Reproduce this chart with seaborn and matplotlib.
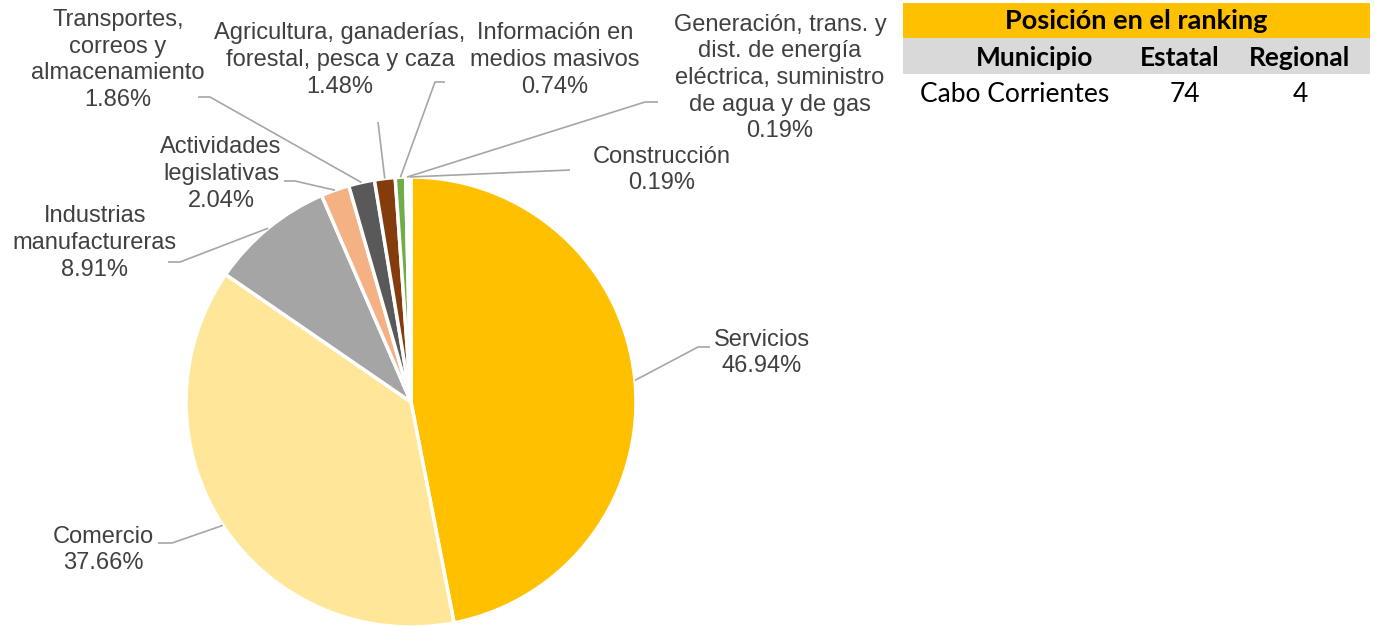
"""Pie of sector shares for Cabo Corrientes with a small ranking table."""

import matplotlib

matplotlib.use("Agg")

import matplotlib.pyplot as plt
import numpy as np
import seaborn as sns
from matplotlib.patches import Rectangle

W, H = 1375, 626

SECTORS = [
    "Servicios",
    "Comercio",
    "Industrias\nmanufactureras",
    "Actividades\nlegislativas",
    "Transportes,\ncorreos y\nalmacenamiento",
    "Agricultura, ganaderías,\nforestal, pesca y caza",
    "Información en\nmedios masivos",
    "Generación, trans. y\ndist. de energía\neléctrica, suministro\nde agua y de gas",
    "Construcción",
]
SHARES = [46.94, 37.66, 8.91, 2.04, 1.86, 1.48, 0.74, 0.19, 0.19]
COLORS = ["#FFC000", "#FFE699", "#A5A5A5", "#F4B183", "#595959",
          "#843C0C", "#70AD47", "#BDD7EE", "#C9C9C9"]

TABLE_TITLE = "Posición en el ranking"
TABLE_COLS = ["Municipio", "Estatal", "Regional"]
TABLE_ROW = ["Cabo Corrientes", "74", "4"]

# layout (pixel coords, y from top)
PIE_CENTER = (411, 402)
PIE_RADIUS = 225
LABEL_POS = [(762, 353), (103, 550), (95, 243), (221, 174), (118, 60),
             (340, 60), (555, 60), (780, 78), (662, 170)]
ELBOWS = [
    [(698, 347), (710, 347)],
    [(172, 543), (158, 543)],
    [(180, 262), (168, 262)],
    [(295, 181), (284, 181)],
    [(210, 97), (198, 97)],
    [(378, 122)],
    [(435, 82), (445, 82)],
    [(645, 102), (658, 102)],
    [(570, 170)],
]


def fy(y):
    return H - y


def main():
    sns.set_theme(style="white")
    plt.rcParams["font.family"] = ["Liberation Sans", "DejaVu Sans"]

    fig = plt.figure(figsize=(W / 100, H / 100), dpi=100)
    ax = fig.add_axes([0, 0, 1, 1])

    cx, cy = PIE_CENTER[0], fy(PIE_CENTER[1])
    wedges, _ = ax.pie(
        SHARES,
        colors=COLORS,
        startangle=90,
        counterclock=False,
        center=(cx, cy),
        radius=PIE_RADIUS,
        wedgeprops=dict(edgecolor="white", linewidth=2.5),
    )
    ax.set_xlim(0, W)
    ax.set_ylim(0, H)
    ax.set_aspect("auto")
    ax.axis("off")

    line_color = "#A6A6A6"
    text_color = "#404040"
    for wedge, name, share, pos, elbow in zip(wedges, SECTORS, SHARES, LABEL_POS, ELBOWS):
        mid = np.deg2rad((wedge.theta1 + wedge.theta2) / 2)
        x0 = cx + PIE_RADIUS * np.cos(mid)
        y0 = cy + PIE_RADIUS * np.sin(mid)
        xs = [x0] + [p[0] for p in elbow]
        ys = [y0] + [fy(p[1]) for p in elbow]
        ax.plot(xs, ys, color=line_color, lw=1.2, solid_capstyle="butt")
        ax.text(pos[0], fy(pos[1]), f"{name}\n{share:.2f}%", ha="center", va="center",
                multialignment="center", fontsize=17, color=text_color, linespacing=1.27)

    # ranking table
    tfont = ["Lato", "DejaVu Sans"]
    ax.add_patch(Rectangle((903, fy(38)), 467, 35, facecolor="#FFC000", edgecolor="none"))
    ax.add_patch(Rectangle((903, fy(74)), 467, 36, facecolor="#D9D9D9", edgecolor="none"))
    ax.text(1136, fy(21), TABLE_TITLE, ha="center", va="center", fontsize=19.5,
            fontweight="bold", family=tfont, color="black")
    for x, label in zip([1035, 1180, 1300], TABLE_COLS):
        ax.text(x, fy(58), label, ha="center", va="center", fontsize=19,
                fontweight="bold", family=tfont, color="black")
    for x, value in zip([1015, 1185, 1300], TABLE_ROW):
        ax.text(x, fy(95), value, ha="center", va="center", fontsize=19,
                family=tfont, color="black")

    fig.savefig("out.png", dpi=100)
    plt.close(fig)


if __name__ == "__main__":
    main()
